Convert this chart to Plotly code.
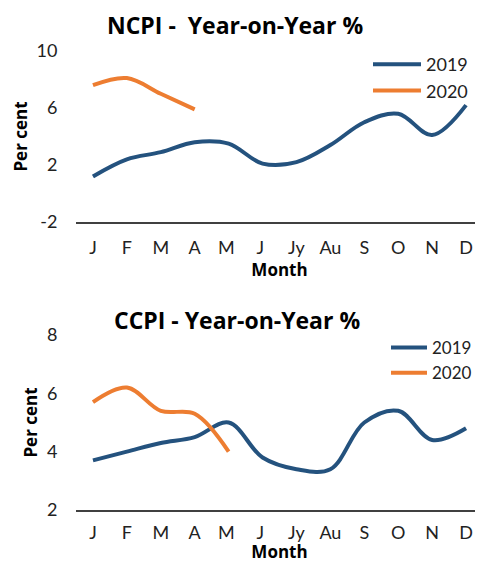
import plotly.graph_objects as go
from plotly.subplots import make_subplots

months = ["J", "F", "M", "A", "M ", "J ", "Jy", "Au", "S", "O", "N", "D"]
ncpi_2019 = [1.2, 2.4, 2.9, 3.6, 3.5, 2.1, 2.2, 3.4, 5.0, 5.6, 4.1, 6.2]
ncpi_2020 = [7.6, 8.1, 7.0, 5.9]
ccpi_2019 = [3.7, 4.0, 4.3, 4.5, 5.0, 3.8, 3.4, 3.4, 5.0, 5.4, 4.4, 4.8]
ccpi_2020 = [5.7, 6.2, 5.4, 5.3, 4.0]
ncpi_ticks = [-2, 2, 6, 10]
ccpi_ticks = [2, 4, 6, 8]

BLUE = "#24527E"
ORANGE = "#ED7D31"
FONT = "Lato"
BFONT = "Open Sans"

fig = make_subplots(rows=2, cols=1)

fig.add_trace(go.Scatter(x=months, y=ncpi_2019, name="2019", mode="lines",
                         line=dict(color=BLUE, width=4, shape="spline", smoothing=1.0),
                         legend="legend"), row=1, col=1)
fig.add_trace(go.Scatter(x=months[:len(ncpi_2020)], y=ncpi_2020, name="2020", mode="lines",
                         line=dict(color=ORANGE, width=4, shape="spline", smoothing=1.0),
                         legend="legend"), row=1, col=1)
fig.add_trace(go.Scatter(x=months, y=ccpi_2019, name="2019", mode="lines",
                         line=dict(color=BLUE, width=4, shape="spline", smoothing=1.0),
                         legend="legend2"), row=2, col=1)
fig.add_trace(go.Scatter(x=months[:len(ccpi_2020)], y=ccpi_2020, name="2020", mode="lines",
                         line=dict(color=ORANGE, width=4, shape="spline", smoothing=1.0),
                         legend="legend2"), row=2, col=1)

OFF = 8  # page body margin
W, H = 483 - OFF, 563 - OFF
def px(p):
    return (p - OFF) / W
def py(p):
    return 1 - (p - OFF) / H

xcommon = dict(domain=[px(76), 1], range=[-0.5, 11.5], showgrid=False, zeroline=False,
               showline=True, linecolor="#404040", linewidth=1.5,
               ticks="outside", tickcolor="rgba(0,0,0,0)",
               tickfont=dict(family=FONT, size=18, color="#222"),
               title=dict(text="<b>Month</b>", font=dict(family=BFONT, size=17, color="#000"), standoff=0))
fig.update_xaxes(**xcommon, ticklen=9, row=1, col=1)
fig.update_xaxes(**xcommon, ticklen=6, row=2, col=1)

ycommon = dict(showgrid=False, zeroline=False, showline=False,
               ticks="outside", ticklen=14, tickcolor="rgba(0,0,0,0)",
               tickfont=dict(family=FONT, size=18, color="#222"),
               title=dict(text="<b>Per cent</b>", font=dict(family=BFONT, size=17, color="#000"), standoff=4))
fig.update_yaxes(**ycommon, domain=[py(222), py(51)], range=[-2, 10], tickvals=ncpi_ticks,
                 ticktext=[str(v) for v in ncpi_ticks], row=1, col=1)
fig.update_yaxes(**ycommon, domain=[py(510), py(335)], range=[2, 8], tickvals=ccpi_ticks,
                 ticktext=[str(v) for v in ccpi_ticks], row=2, col=1)

fig.update_layout(
    width=W, height=H,
    margin=dict(l=0, r=0, t=0, b=0, autoexpand=False),
    paper_bgcolor="white", plot_bgcolor="white",
    legend=dict(x=px(368), y=py(46), xanchor="left", yanchor="top",
                font=dict(family=FONT, size=18, color="#222"), bgcolor="rgba(0,0,0,0)",
                tracegroupgap=0, itemwidth=48),
    legend2=dict(x=px(386), y=py(330), xanchor="left", yanchor="top",
                 font=dict(family=FONT, size=17, color="#222"), bgcolor="rgba(0,0,0,0)",
                 tracegroupgap=0, itemwidth=36),
    annotations=[
        dict(text="<b>NCPI -  Year-on-Year %</b>", x=px(235), y=py(25), xref="paper", yref="paper",
             showarrow=False, font=dict(family=BFONT, size=23, color="#000"), xanchor="center", yanchor="middle"),
        dict(text="<b>CCPI - Year-on-Year %</b>", x=px(237), y=py(320), xref="paper", yref="paper",
             showarrow=False, font=dict(family=BFONT, size=23, color="#000"), xanchor="center", yanchor="middle"),
    ],
)

fig.write_html("out.html")
